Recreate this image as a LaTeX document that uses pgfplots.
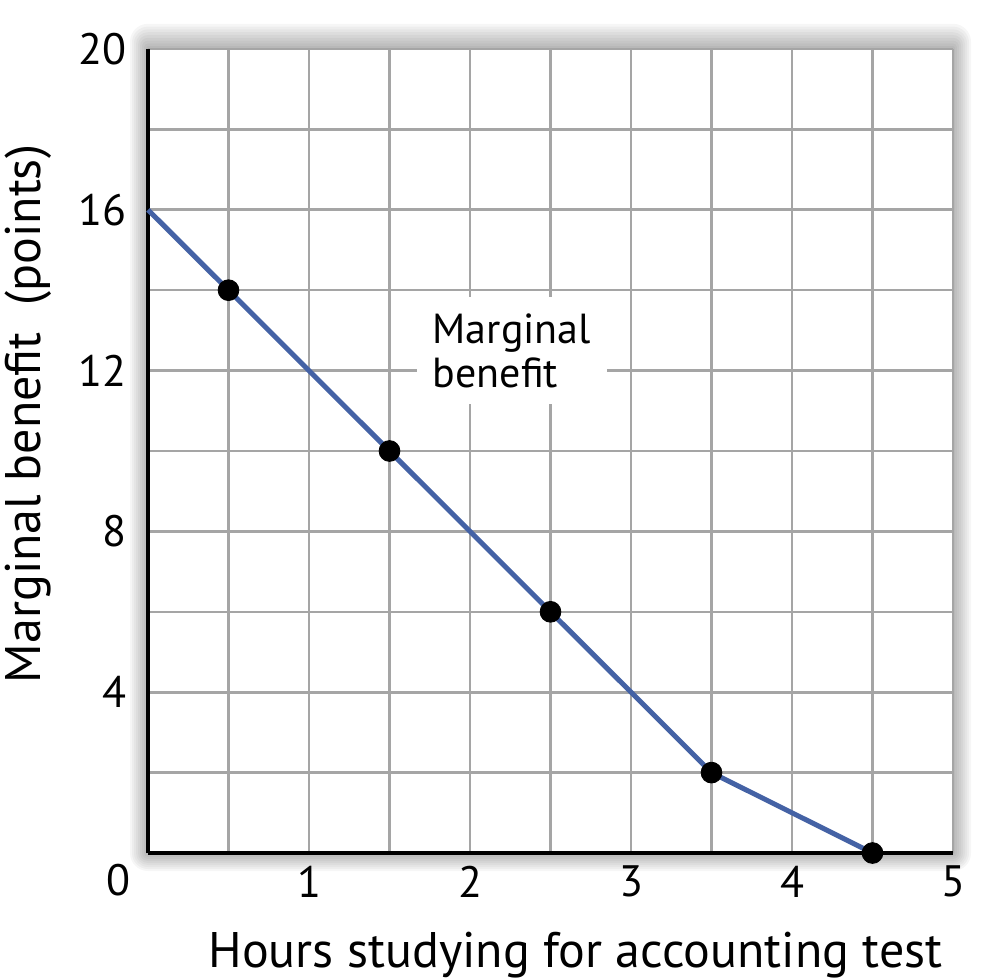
\documentclass[border=0pt]{standalone}
\usepackage{fontspec}
\setmainfont{PT Sans}
\usepackage{pgfplots}
\pgfplotsset{compat=1.18}

\definecolor{mbblue}{RGB}{68,98,165}
\definecolor{gridgray}{RGB}{165,165,165}

\begin{document}
\begin{tikzpicture}
\useasboundingbox (-74pt,-63pt) rectangle (418pt,426.5pt);
% soft glow round the plot area
\foreach \k in {1,...,9} {
  \fill[black, opacity=0.035, rounded corners=\k pt]
    (-\k pt,-\k pt) rectangle (402.5pt+\k pt,402pt+1.4*\k pt);
}
\begin{axis}[
    at={(0,0)}, anchor=south west,
    width=402.5pt, height=402pt,
    scale only axis,
    axis background/.style={fill=white},
    xmin=0, xmax=5, ymin=0, ymax=20,
    axis x line*=bottom, axis y line*=left,
    axis line style={line width=2.4pt, black, -},
    xtick={0,...,5}, xticklabels={,1,2,3,4,5},
    ytick={0,4,...,20}, yticklabels={,4,8,12,16,20},
    minor x tick num=1, minor y tick num=1,
    major tick length=0pt, minor tick length=0pt,
    grid=both,
    major grid style={gridgray, line width=1.3pt},
    minor grid style={gridgray, line width=1.3pt},
    tick label style={font=\fontsize{22}{24}\selectfont},
    /pgf/number format/assume math mode=true,
    xticklabel style={yshift=-3pt},
    yticklabel style={xshift=-7pt},
    xlabel={Hours studying for accounting test},
    ylabel={Marginal benefit\ \ (points)},
    label style={font=\fontsize{25}{27}\selectfont},
    xlabel style={at={(axis description cs:0.531,0)}, anchor=center, yshift=-51pt},
    ylabel style={at={(axis description cs:0,0.546)}, anchor=center, yshift=60pt},
    clip=false,
]
\addplot[mbblue, line width=2.5pt] coordinates {
    (0,16) (0.5,14) (1.5,10) (2.5,6) (3.5,2) (4.5,0)
};
\addplot[only marks, mark=*, mark size=5.2pt, black] coordinates {
    (0.5,14) (1.5,10) (2.5,6) (3.5,2) (4.5,0)
};
\node[fill=white, align=left, inner sep=8pt, font=\fontsize{21}{22}\selectfont]
    at (axis cs:2.26,12.5) {Marginal\\benefit};
\node[font=\fontsize{22}{24}\selectfont] at (axis cs:0,0) [xshift=-15pt, yshift=-13.5pt] {0};
\end{axis}
\end{tikzpicture}
\end{document}
